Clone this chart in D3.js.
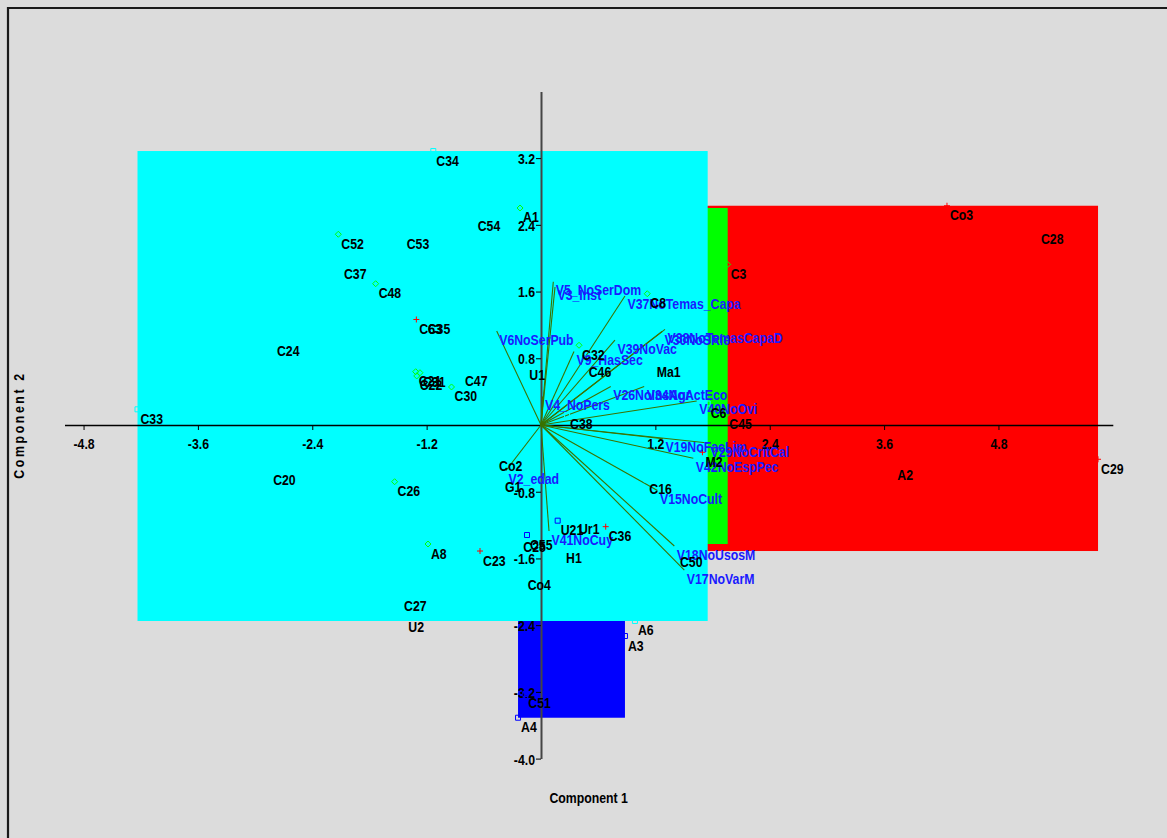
<!DOCTYPE html>
<html>
<head>
<meta charset="utf-8">
<script src="https://cdn.jsdelivr.net/npm/d3@7"></script>
<style>
  html, body { margin: 0; padding: 0; background: #dcdcdc; }
  svg { display: block; }
</style>
</head>
<body>
<svg id="chart" width="1167" height="838"></svg>
<script>
// ---- Object scores (Component 1, Component 2), one array per cluster ----
const groupCyan = [
  ["C34", -1.130, 3.285], ["C54", -0.696, 2.498], ["C53", -1.441, 2.290],
  ["C37", -2.099, 1.930], ["C35", -1.220, 1.265], ["C24", -2.802, 0.999],
  ["C47", -0.829, 0.647], ["U1", -0.154, 0.713], ["C33", -4.234, 0.188],
  ["C46", 0.469, 0.752], ["Ma1", 1.183, 0.752], ["C38", 0.273, 0.120],
  ["C16", 1.105, -0.653], ["Co2", -0.472, -0.374], ["G1", -0.409, -0.626],
  ["C20", -2.842, -0.546], ["C27", -1.469, -2.059], ["U2", -1.424, -2.311],
  ["A6", 0.986, -2.350], ["H1", 0.231, -1.477], ["Co4", -0.171, -1.805],
  ["Ur1", 0.367, -1.137], ["C50", 1.427, -1.525], ["C6", 1.749, 0.258],
  ["C25", -0.217, -1.345]
];
const groupGreen = [
  ["A1", -0.220, 2.602], ["C52", -2.127, 2.287], ["C48", -1.735, 1.694],
  ["C21", -1.315, 0.639], ["C31", -1.270, 0.627], ["C22", -1.304, 0.588],
  ["C30", -0.939, 0.456], ["C26", -1.536, -0.680], ["A8", -1.186, -1.427],
  ["C32", 0.399, 0.956], ["C8", 1.115, 1.574], ["C3", 1.959, 1.925],
  ["C45", 1.944, 0.126]
];
const groupRed = [
  ["Co3", 4.260, 2.629], ["C28", 5.215, 2.350], ["C29", 5.845, -0.411],
  ["A2", 3.707, -0.480], ["M2", 1.694, -0.327], ["C63", -1.308, 1.265],
  ["C36", 0.679, -1.219], ["C23", -0.640, -1.511]
];
const groupBlue = [
  ["A4", -0.241, -3.510], ["A3", 0.881, -2.530], ["C51", -0.165, -3.225],
  ["U21", 0.175, -1.147], ["C55", -0.147, -1.319]
];

// ---- Variable loadings (biplot vectors) ----
const vectorNames = [
  "V5_NoSerDom", "V3_Inst", "V37NoTemas_Capa", "V6NoSerPub", "V38NoTemasCapaD",
  "V30NoSRie", "V39NoVac", "V9_HasSec", "V26NoInsAgr", "V34NoActEco",
  "V40NoOvi", "V4_NoPers", "V19NoFacLim", "V29NoCritCal", "V42NoEspPec",
  "V15NoCult", "V18NoUsosM", "V17NoVarM", "V41NoCuy", "V2_edad"
];
const vectorX = [
  0.129, 0.147, 0.881, -0.465, 1.301,
  1.270, 0.776, 0.346, 0.732, 1.083,
  1.634, 0.016, 1.280, 1.753, 1.598,
  1.222, 1.399, 1.504, 0.084, -0.367
];
const vectorY = [
  1.718, 1.655, 1.547, 1.127, 1.147,
  1.121, 1.019, 0.881, 0.462, 0.462,
  0.288, 0.342, -0.165, -0.216, -0.399,
  -0.785, -1.451, -1.739, -1.271, -0.546
];

// ---- Axis ticks ----
const xTicks = [-4.8, -3.6, -2.4, -1.2, 1.2, 2.4, 3.6, 4.8];
const yTicks = [-4.0, -3.2, -2.4, -1.6, -0.8, 0.8, 1.6, 2.4, 3.2];

// ---- Drawing ----
const FONT = "'Liberation Sans', Arial, Helvetica, sans-serif";
const SQUEEZE = "scale(0.82,1)";
const svg = d3.select("#chart");

const x = d3.scaleLinear().domain([-5, 6]).range([64.5, 1112.8]);
const y = d3.scaleLinear().domain([-4, 4]).range([758.6, 91.4]);

// window frame
svg.append("rect").attr("x", 0).attr("y", 0).attr("width", 1167).attr("height", 838).attr("fill", "#dcdcdc");
svg.append("path").attr("d", "M8,838V8H1167").attr("fill", "none").attr("stroke", "#1a1a1a").attr("stroke-width", 2.2);

// cluster enclosures (bounding boxes of each cluster's scores)
const groups = [
  { pts: groupRed,   fill: "#ff0000", mark: "plus" },
  { pts: groupGreen, fill: "#00ff00", mark: "diamond" },
  { pts: groupBlue,  fill: "#0000ff", mark: "square" },
  { pts: groupCyan,  fill: "#00ffff", mark: "square" }
];
svg.append("g").selectAll("rect").data(groups).join("rect")
  .attr("x", g => x(d3.min(g.pts, p => p[1])))
  .attr("y", g => y(d3.max(g.pts, p => p[2])))
  .attr("width", g => x(d3.max(g.pts, p => p[1])) - x(d3.min(g.pts, p => p[1])))
  .attr("height", g => y(d3.min(g.pts, p => p[2])) - y(d3.max(g.pts, p => p[2])))
  .attr("fill", g => g.fill);

// axes
const gx = svg.append("g").attr("transform", `translate(0,${y(0)})`)
  .call(d3.axisBottom(x).tickValues(xTicks).tickFormat(d => d.toFixed(1)).tickSize(5).tickSizeOuter(0));
gx.attr("font-family", FONT).attr("font-size", 15).attr("font-weight", "bold");
gx.select(".domain").attr("stroke", "#000").attr("stroke-width", 1.5);
gx.selectAll(".tick line").attr("stroke", "#000");
gx.selectAll(".tick text").attr("fill", "#000").attr("y", 24).attr("dy", null).attr("transform", SQUEEZE);

const gy = svg.append("g").attr("transform", `translate(${x(0)},0)`)
  .call(d3.axisLeft(y).tickValues(yTicks).tickFormat(d => d.toFixed(1)).tickSize(5).tickSizeOuter(0));
gy.attr("font-family", FONT).attr("font-size", 15).attr("font-weight", "bold");
gy.select(".domain").attr("stroke", "#454545").attr("stroke-width", 2);
gy.selectAll(".tick line").attr("stroke", "#000");
gy.selectAll(".tick text").attr("fill", "#000").attr("x", 0).attr("dy", "0.36em")
  .attr("transform", "translate(-6,0) " + SQUEEZE);

// loading vectors
const vectors = vectorNames.map((n, i) => ({ name: n, vx: vectorX[i], vy: vectorY[i] }));
svg.append("g").selectAll("line").data(vectors).join("line")
  .attr("x1", x(0)).attr("y1", y(0))
  .attr("x2", d => x(d.vx)).attr("y2", d => y(d.vy))
  .attr("stroke", "#3a7300").attr("stroke-width", 1.1);

// score markers
const markG = svg.append("g").attr("fill", "none").attr("stroke-width", 1);
groups.forEach(g => {
  markG.selectAll(null).data(g.pts).join("path")
    .attr("stroke", g.fill)
    .attr("d", p => {
      const cx = x(p[1]), cy = y(p[2]);
      if (g.mark === "plus") return `M${cx - 3},${cy}H${cx + 3}M${cx},${cy - 3}V${cy + 3}`;
      if (g.mark === "diamond") return `M${cx},${cy - 3}L${cx + 3},${cy}L${cx},${cy + 3}L${cx - 3},${cy}Z`;
      return `M${cx - 2.5},${cy - 2.5}h5v5h-5Z`;
    });
});

// vector labels
svg.append("g").attr("font-family", FONT).attr("font-size", 15).attr("font-weight", "bold").attr("fill", "#1a1aff")
  .selectAll("text").data(vectors).join("text")
  .attr("transform", d => `translate(${x(d.vx) + 2.5},${y(d.vy) + 13.5}) ${SQUEEZE}`)
  .text(d => d.name);

// score labels
const allPts = groups.flatMap(g => g.pts);
svg.append("g").attr("font-family", FONT).attr("font-size", 15).attr("font-weight", "bold").attr("fill", "#000")
  .selectAll("text").data(allPts).join("text")
  .attr("transform", p => `translate(${x(p[1]) + 3},${y(p[2]) + 14.5}) ${SQUEEZE}`)
  .text(p => p[0]);

// axis titles
svg.append("text")
  .attr("font-family", FONT).attr("font-size", 15).attr("font-weight", "bold").attr("fill", "#000")
  .attr("text-anchor", "middle")
  .attr("transform", `translate(${(x.range()[0] + x.range()[1]) / 2},803) ${SQUEEZE}`)
  .text("Component 1");
svg.append("text")
  .attr("font-family", FONT).attr("font-size", 15).attr("font-weight", "bold").attr("fill", "#000")
  .attr("text-anchor", "middle").attr("letter-spacing", 3.2)
  .attr("transform", `translate(24,${(y.range()[0] + y.range()[1]) / 2}) rotate(-90) ${SQUEEZE}`)
  .text("Component 2");
</script>
</body>
</html>
